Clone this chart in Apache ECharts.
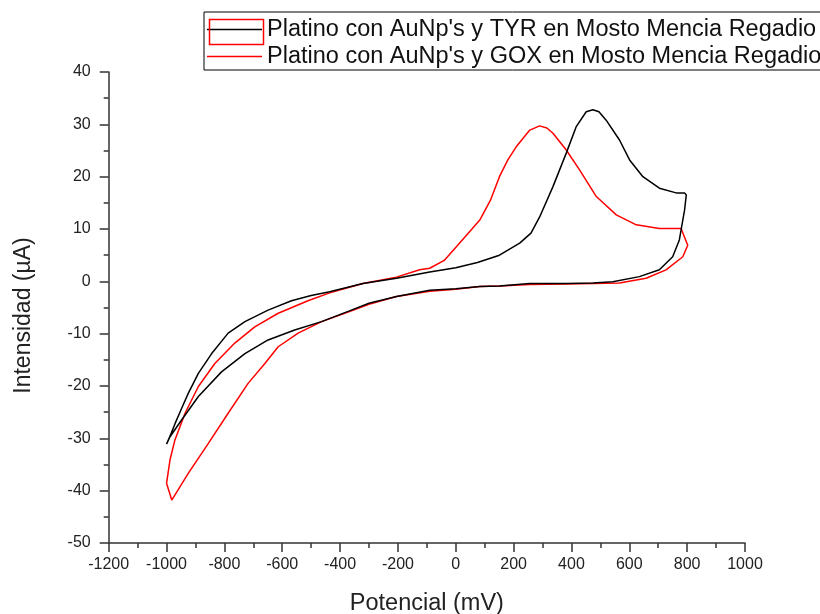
<!DOCTYPE html>
<html>
<head>
<meta charset="utf-8">
<script src="https://cdn.jsdelivr.net/npm/echarts@6/dist/echarts.min.js"></script>
<style>html,body{margin:0;padding:0;background:#fff}#c{width:820px;height:614px}</style>
</head>
<body>
<div id="c"></div>
<script>
// Potential (mV) and current (µA) along each CV loop
const tyrX = [-1000,-985,-970,-948,-925,-890,-844,-787,-729,-649,-568,-500,-436,-321,-205,-90,0,75,151,221,260,290,336,382,416,451,474,495,520,566,601,647,704,762,791,797,791,773,750,704,635,543,474,382,255,151,83,0,-90,-205,-300,-370,-464,-557,-649,-729,-810,-890,-948,-988,-1000];
const tyrY = [-31.1,-29.2,-27.1,-24.3,-21.4,-17.6,-13.8,-9.9,-7.7,-5.5,-3.7,-2.7,-2.0,-0.4,0.6,1.8,2.6,3.6,5.0,7.3,9.2,12.3,18.1,24.5,29.5,32.4,32.8,32.4,30.8,27.0,23.2,20.0,17.8,16.9,16.9,16.5,13.6,7.9,4.7,2.2,0.9,-0.1,-0.3,-0.4,-0.4,-0.9,-1.0,-1.4,-1.7,-2.9,-4.2,-5.7,-7.7,-9.3,-11.2,-13.8,-17.3,-22.0,-26.5,-29.7,-31.1];

const goxX = [-1000,-988,-971,-936,-890,-833,-764,-695,-614,-511,-436,-321,-205,-125,-90,-40,2,40,83,120,151,180,209,256,290,315,336,382,428,486,555,624,704,779,802,785,727,658,566,474,382,255,151,83,0,-90,-205,-300,-384,-464,-545,-614,-660,-718,-787,-856,-925,-982,-1000];
const goxY = [-38.6,-34.1,-30.3,-25.2,-20.1,-15.7,-11.8,-8.7,-6.1,-3.7,-2.2,-0.4,0.8,2.2,2.5,4.0,6.6,9.0,11.7,15.5,20.0,23.2,25.7,28.9,29.7,29.3,28.3,25.1,21.3,16.2,12.7,10.8,10.1,10.1,6.9,4.7,2.2,0.6,-0.3,-0.4,-0.5,-0.6,-0.9,-1.0,-1.5,-1.9,-2.9,-4.4,-6.1,-7.7,-9.9,-12.5,-15.7,-19.5,-25.2,-31.0,-36.7,-41.8,-38.6];

const seriesNames = ["Platino con AuNp's y TYR en Mosto Mencia Regadio", "Platino con AuNp's y GOX en Mosto Mencia Regadio"];
const xTitle = 'Potencial (mV)';
const yTitle = 'Intensidad (µA)';

const zip = (xs, ys) => xs.map((x, i) => [x, ys[i]]);

const chart = echarts.init(document.getElementById('c'));
const font = 'Arial, "Liberation Sans", sans-serif';
const axisCol = '#333';
chart.setOption({
  animation: false,
  backgroundColor: '#fff',
  grid: { left: 108.7, right: 75, top: 72, bottom: 71, outerBoundsMode: 'none', containLabel: false },
  legend: {
    orient: 'vertical', left: 204, top: 12,
    borderColor: '#000', borderWidth: 1,
    padding: [5, 20, 1, 3],
    icon: 'rect',
    itemWidth: 55, itemHeight: 1.5, itemGap: 2,
    textStyle: { fontFamily: font, fontSize: 23.5, color: '#111', lineHeight: 25 },
    data: seriesNames
  },
  graphic: [{
    type: 'rect', left: 207, top: 17, shape: { width: 54, height: 25 },
    style: { fill: 'none', stroke: '#ff0000', lineWidth: 1.5 }, z: 100
  }],
  xAxis: {
    type: 'value', min: -1200, max: 1000, interval: 200,
    name: xTitle, nameLocation: 'middle', nameGap: 49,
    nameTextStyle: { fontFamily: font, fontSize: 23.5, color: '#222' },
    axisLine: { onZero: false, lineStyle: { color: axisCol, width: 1.5 } },
    axisTick: { inside: false, length: 9, lineStyle: { color: axisCol, width: 1.5 } },
    minorTick: { show: true, splitNumber: 2, length: 5, lineStyle: { color: axisCol, width: 1.5 } },
    axisLabel: { fontFamily: font, fontSize: 16, color: '#222', margin: 14, formatter: v => String(v) },
    splitLine: { show: false }
  },
  yAxis: {
    type: 'value', min: -50, max: 40, interval: 10,
    name: yTitle, nameLocation: 'middle', nameGap: 74, nameRotate: 90,
    nameTextStyle: { fontFamily: font, fontSize: 23, color: '#222', padding: [0, 16, 0, 0] },
    axisLine: { show: true, onZero: false, lineStyle: { color: axisCol, width: 1.5 } },
    axisTick: { show: true, inside: false, length: 9, lineStyle: { color: axisCol, width: 1.5 } },
    minorTick: { show: true, splitNumber: 2, length: 5, lineStyle: { color: axisCol, width: 1.5 } },
    axisLabel: { fontFamily: font, fontSize: 16, color: '#222', margin: 18, formatter: v => String(v) },
    splitLine: { show: false }
  },
  series: [
    { name: seriesNames[0], type: 'line', data: zip(tyrX, tyrY), symbol: 'none', smooth: false,
      lineStyle: { color: '#000', width: 1.5 }, itemStyle: { color: '#000' }, z: 3 },
    { name: seriesNames[1], type: 'line', data: zip(goxX, goxY), symbol: 'none', smooth: false,
      lineStyle: { color: '#ff0000', width: 1.5 }, itemStyle: { color: '#ff0000' }, z: 2 }
  ]
});
</script>
</body>
</html>
